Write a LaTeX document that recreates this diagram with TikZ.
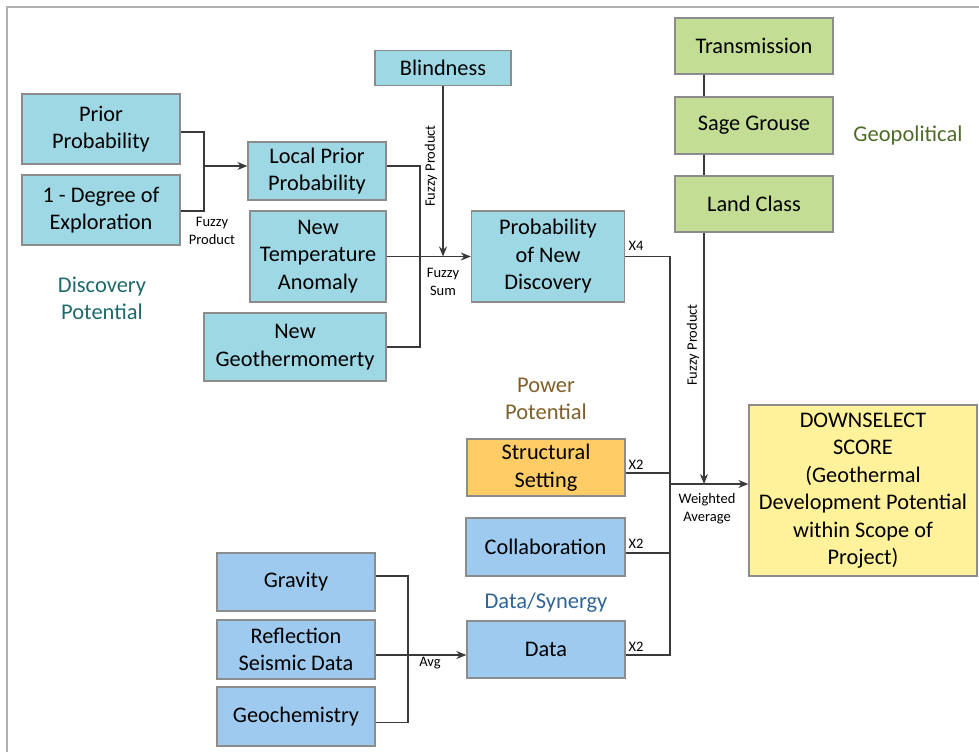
\documentclass[tikz,border=0pt]{standalone}
\usepackage{fontspec}
\setmainfont{Carlito}
\usepackage{xcolor}
\usepackage{tikz}
\usetikzlibrary{arrows.meta, positioning, calc}

\definecolor{boxline}{HTML}{8C8C8C}
\definecolor{wire}{HTML}{3A3A3A}
\definecolor{tealfill}{HTML}{9ED8E4}
\definecolor{bluefill}{HTML}{9DCAEE}
\definecolor{greenfill}{HTML}{C3DD94}
\definecolor{orangefill}{HTML}{FFCC66}
\definecolor{yellowfill}{HTML}{FFF29A}
\definecolor{discov}{HTML}{1E6A6A}
\definecolor{power}{HTML}{7F5F2A}
\definecolor{synergy}{HTML}{2F6496}
\definecolor{geopol}{HTML}{4F6B28}

\begin{document}
\begin{tikzpicture}[
    x=1pt, y=-1pt,
    font=\fontsize{22.3}{27.5}\selectfont,
    box/.style={draw=boxline, line width=1.3pt, align=center, inner sep=1pt},
    disc/.style={box, fill=tealfill},
    dat/.style={box, fill=bluefill},
    geo/.style={box, fill=greenfill},
    wires/.style={draw=wire, line width=1.2pt},
    flow/.style={wires, -{Stealth[length=10pt,width=8pt]}},
    tag/.style={font=\fontsize{14.5}{18}\selectfont, align=center},
    group/.style={font=\fontsize{22.5}{27}\selectfont, align=center}
]

    % Frame
    \useasboundingbox (0,0) rectangle (979,752);
    \draw[draw=boxline!70, line width=1.2pt] (979,7) -- (7,7) -- (7,752);

    % Discovery potential
    \node[disc, minimum width=158, minimum height=70] (prior) at (101,129) {Prior\\Probability};
    \node[disc, minimum width=158, minimum height=70] (explor) at (101,210) {1 - Degree of\\Exploration};
    \node[disc, minimum width=138, minimum height=58] (localprior) at (317,171) {Local Prior\\Probability};
    \node[disc, minimum width=136, minimum height=91] (temp) at (318,256.5) {New\\Temperature\\Anomaly};
    \node[disc, minimum width=182, minimum height=68] (geotherm) at (295,347) {New\\Geothermomerty};
    \node[disc, minimum width=136, minimum height=35] (blind) at (443,68) {Blindness};
    \node[disc, minimum width=153, minimum height=91] (newdisc) at (548,256.5) {Probability\\of New\\Discovery};
    \node[group, text=discov] (discLabel) at (102,298) {Discovery\\Potential};

    % Geopolitical
    \node[geo, minimum width=158, minimum height=56] (trans) at (754,46) {Transmission};
    \node[geo, minimum width=158, minimum height=57] (grouse) at (754,125.5) {Sage Grouse};
    \node[geo, minimum width=158, minimum height=56] (land) at (754,204) {Land Class};
    \node[group, text=geopol] (geoLabel) at (908,136) {Geopolitical};

    % Power and data
    \node[group, text=power] (powLabel) at (546,399) {Power\\Potential};
    \node[box, fill=orangefill, minimum width=158, minimum height=57] (struct) at (546,467.5) {Structural\\Setting};
    \node[dat, minimum width=159, minimum height=58] (collab) at (545.5,547) {Collaboration};
    \node[group, text=synergy] (synLabel) at (546,603) {Data/Synergy};
    \node[dat, minimum width=158, minimum height=57] (data) at (546,649.5) {Data};
    \node[dat, minimum width=158, minimum height=58] (gravity) at (296,582) {Gravity};
    \node[dat, minimum width=158, minimum height=59] (seismic) at (296,649.5) {Reflection\\Seismic Data};
    \node[dat, minimum width=158, minimum height=59] (geochem) at (296,716.5) {Geochemistry};

    % Score
    \node[box, fill=yellowfill, minimum width=228, minimum height=171] (score) at (863,490.5) {DOWNSELECT\\SCORE\\(Geothermal\\Development Potential\\within Scope of\\Project)};

    % Junctions
    \coordinate (prodJ) at (204,166);
    \coordinate (sumJ) at (420,257);
    \coordinate (bus) at (670,484);
    \coordinate (avgJ) at (408,650);

    % Connectors
    \draw[wires] ([yshift=-3pt]prior.east) -| (prodJ) |- ([yshift=-1pt]explor.east);
    \draw[flow] (prodJ) -- (prodJ -| localprior.west);
    \draw[wires] ([yshift=5pt]localprior.east) -| (sumJ) |- (geotherm.east);
    \draw[flow] (temp.east) -- (newdisc.west);
    \draw[flow] (blind.south) -- (blind.south |- temp.east);
    \draw[wires] (newdisc.east) -| (bus);
    \draw[wires] ([yshift=-5.5pt]struct.east) -| (bus);
    \draw[wires] ([yshift=-6pt]collab.east) -| (bus);
    \draw[wires] ([yshift=-5.5pt]data.east) -| (bus);
    \draw[flow] (bus) -- (bus -| score.west);
    \draw[wires] ([xshift=-50pt]trans.south) -- ([xshift=-50pt]grouse.north);
    \draw[wires] ([xshift=-50pt]grouse.south) -- ([xshift=-50pt]land.north);
    \draw[flow] ([xshift=-50pt]land.south) -- ([xshift=-50pt]land.south |- bus);
    \draw[wires] ([yshift=6pt]gravity.east) -| (avgJ) |- ([yshift=-6pt]geochem.east);
    \draw[flow] ([yshift=-5.5pt]seismic.east) -- ([yshift=-5.5pt]seismic.east -| data.west);

    % Operation labels
    \node[tag] (prodTag) at (212,231) {Fuzzy\\Product};
    \node[tag, rotate=90] (blindTag) at (431,166) {Fuzzy Product};
    \node[tag] (sumTag) at (443,282) {Fuzzy\\Sum};
    \node[tag, rotate=90] (geoTag) at (693,345) {Fuzzy Product};
    \node[tag] (avgTag) at (707,509) {Weighted\\Average};
    \node[tag] (x4Tag) at (636,246) {X4};
    \node[tag] (x2a) at (636,465) {X2};
    \node[tag] (x2b) at (636,544) {X2};
    \node[tag] (x2c) at (636,647) {X2};
    \node[tag] (avgDataTag) at (430,663) {Avg};

\end{tikzpicture}
\end{document}
